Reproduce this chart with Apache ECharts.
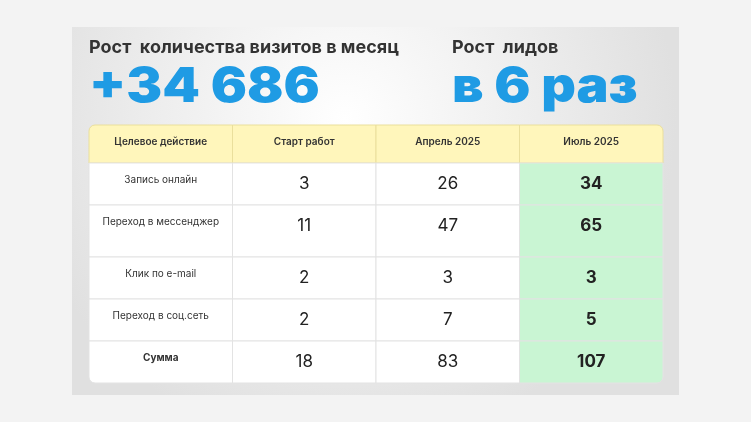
<!DOCTYPE html>
<html><head><meta charset="utf-8">
<script src="https://cdn.jsdelivr.net/npm/echarts@6/dist/echarts.min.js"></script>
<style>html,body{margin:0;padding:0;background:#f3f3f3}#c{width:751px;height:422px}</style>
</head><body><div id="c"></div>
<script>
// данные таблицы
var columns = ['Целевое действие', 'Старт работ', 'Апрель 2025', 'Июль 2025'];
var actions = ['Запись онлайн', 'Переход в мессенджер', 'Клик по e-mail', 'Переход в соц.сеть', 'Сумма'];
var startValues = [3, 11, 2, 2, 18];
var aprilValues = [26, 47, 3, 7, 83];
var julyValues = [34, 65, 3, 5, 107];
// высоты строк (заголовок + строки)
var rowHeights = [38, 42, 52, 42, 42, 42];

var rowTops = [0];
for (var i = 0; i < rowHeights.length; i++) rowTops.push(rowTops[i] + rowHeights[i]);
var total = rowTops[rowTops.length - 1];

var cells = [];
for (var c = 0; c < 4; c++) cells.push([c, 0, columns[c]]);
for (var r = 0; r < actions.length; r++) {
    cells.push([0, r + 1, actions[r]]);
    cells.push([1, r + 1, String(startValues[r])]);
    cells.push([2, r + 1, String(aprilValues[r])]);
    cells.push([3, r + 1, String(julyValues[r])]);
}

var myChart = echarts.init(document.getElementById('c'));
var font = 'Inter, Roboto, sans-serif';

function renderItem(params, api) {
    var col = api.value(0), row = api.value(1);
    var text = cells[params.dataIndex][2];
    var p1 = api.coord([col, rowTops[row]]);
    var p2 = api.coord([col + 1, rowTops[row + 1]]);
    var x = p1[0], y = p1[1], w = p2[0] - p1[0], h = p2[1] - p1[1];
    var fill = row === 0 ? '#fff6bb' : (col === 3 ? '#c9f5d3' : '#ffffff');
    var txt;
    if (row === 0) {
        txt = { x: x + w / 2, y: y + h / 2 - 2, text: text, fontSize: 10, fontWeight: 600, fill: '#333', align: 'center', verticalAlign: 'middle', fontFamily: font };
    } else if (col === 0) {
        txt = { x: x + w / 2, y: y + 17, text: text, fontSize: 10, fontWeight: row === 5 ? 700 : 400, fill: '#333', align: 'center', verticalAlign: 'middle', fontFamily: font };
    } else {
        txt = { x: x + w / 2, y: y + 21, text: text, fontSize: 17, fontWeight: col === 3 ? 700 : 400, fill: '#222', align: 'center', verticalAlign: 'middle', fontFamily: font };
    }
    // скругление углов таблицы
    var rr = [0, 0, 0, 0];
    if (row === 0 && col === 0) rr = [6, 0, 0, 0];
    if (row === 0 && col === 3) rr = [0, 6, 0, 0];
    if (row === 5 && col === 3) rr = [0, 0, 6, 0];
    if (row === 5 && col === 0) rr = [0, 0, 0, 6];
    return {
        type: 'group',
        children: [
            { type: 'rect', shape: { x: x, y: y, width: w, height: h, r: rr }, style: { fill: fill, stroke: row === 0 ? '#eadf9c' : '#e3e3e3', lineWidth: 1 } },
            { type: 'text', style: txt }
        ]
    };
}

var option = {
    animation: false,
    graphic: [
        { type: 'rect', shape: { x: 72, y: 27, width: 607, height: 368 }, z: -10,
          style: { fill: { type: 'radial', x: 0.45, y: 0.25, r: 0.9, colorStops: [{ offset: 0, color: '#ffffff' }, { offset: 1, color: '#e0e0e0' }] } } },
        { type: 'text', left: 89, top: 39, style: { text: 'Рост  количества визитов в месяц', fontSize: 18, fontWeight: 700, fill: '#333', fontFamily: font } },
        { type: 'text', left: 452, top: 39, style: { text: 'Рост  лидов', fontSize: 18, fontWeight: 700, fill: '#333', fontFamily: font } },
        { type: 'text', x: 89, y: 64, scaleX: 1.12, style: { text: '+34 686', fontSize: 48, fontWeight: 900, fill: '#1f9be4', fontFamily: font } },
        { type: 'text', x: 452, y: 64, scaleX: 1.12, style: { text: 'в 6 раз', fontSize: 48, fontWeight: 900, fill: '#1f9be4', fontFamily: font } }
    ],
    grid: { left: 89, top: 125, width: 574, height: 258 },
    xAxis: { type: 'value', min: 0, max: 4, show: false },
    yAxis: { type: 'value', min: 0, max: total, inverse: true, show: false },
    series: [{
        type: 'custom',
        renderItem: renderItem,
        clip: false,
        data: cells.map(function (d) { return [d[0], d[1]]; })
    }]
};
myChart.setOption(option);
</script>
</body></html>
